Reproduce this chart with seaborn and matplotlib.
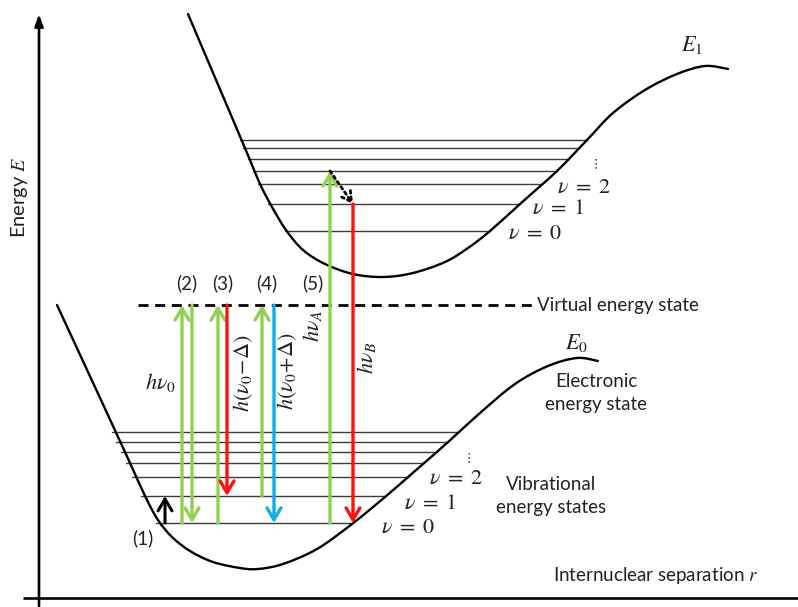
import numpy as np
import matplotlib
matplotlib.use("Agg")
import matplotlib.pyplot as plt
from matplotlib.path import Path
from matplotlib.patches import PathPatch
import seaborn as sns

# ---- potential-energy curves (r, E) in drawing units, E grows downward on screen
r_ground = [57, 82, 107, 130, 146, 158, 172, 190, 213, 240, 258, 283, 317, 352,
            385, 415, 447, 480, 515, 548, 577, 598]
e_ground = [305, 359, 413, 463, 498, 520, 537, 551, 562, 568, 569, 564, 549, 524,
            497, 471, 443, 413, 384, 366, 358, 361]

r_excited = [188, 205, 222, 239, 250, 260, 272, 286, 303, 325, 353, 383, 413,
             445, 468, 490, 520, 557, 587, 613, 645, 677, 705, 728]
e_excited = [14, 54, 94, 134, 160, 184, 207, 230, 250, 264, 274, 277, 273,
             262, 248, 231, 204, 171, 140, 113, 90, 74, 66, 69]

# vibrational levels (v = 0 first)
levels_ground = [523, 496, 477, 463, 452, 442, 432]
levels_excited = [231, 204, 184, 171, 159, 148, 140]
virtual_level = 305
virtual_span = (138, 532)

# transition arrows: (r, start level, end level, colour)
GREEN, RED, BLUE = "#92D050", "#FF1010", "#12AEEA"
transitions = [
    (182, levels_ground[0], virtual_level, GREEN),
    (192, virtual_level, levels_ground[0], GREEN),
    (218, levels_ground[0], virtual_level, GREEN),
    (227, virtual_level, levels_ground[1], RED),
    (262, levels_ground[1], virtual_level, GREEN),
    (274, virtual_level, levels_ground[0], BLUE),
    (330, levels_ground[0], levels_excited[3], GREEN),
    (353, levels_excited[1], levels_ground[0], RED),
]
thermal_r = 165

sns.set_theme(style="white")
plt.rcParams["font.family"] = ["Lato", "DejaVu Sans"]
plt.rcParams["mathtext.fontset"] = "stix"

fig = plt.figure(figsize=(7.98, 6.07), dpi=100)
ax = fig.add_axes([0, 0, 1, 1])
ax.set_xlim(0, 798)
ax.set_ylim(607, 0)
ax.axis("off")

# axes of the diagram
ax.plot([23, 798], [598, 598], color="black", lw=1.9, solid_capstyle="butt")
ax.annotate("", xy=(39, 14), xytext=(39, 606),
            arrowprops=dict(arrowstyle="-|>,head_length=0.7,head_width=0.25",
                            lw=1.9, color="black", shrinkA=0, shrinkB=0,
                            mutation_scale=10))


def smooth_path(rs, es):
    """Cubic Bezier path passing through every (r, E) knot (Catmull-Rom tangents)."""
    p = np.column_stack([rs, es]).astype(float)
    ext = np.vstack([p[0], p, p[-1]])
    verts, codes = [p[0]], [Path.MOVETO]
    for i in range(len(p) - 1):
        p0, p1, p2, p3 = ext[i], ext[i + 1], ext[i + 2], ext[i + 3]
        verts += [p1 + (p2 - p0) / 6.0, p2 - (p3 - p1) / 6.0, p2]
        codes += [Path.CURVE4] * 3
    return Path(verts, codes)


def level_ends(rs, es, level):
    rs = np.asarray(rs, float)
    es = np.asarray(es, float)
    i_min = int(np.argmax(es))
    left_r, left_e = rs[:i_min + 1], es[:i_min + 1]
    right_r, right_e = rs[i_min:], es[i_min:]
    i_top = int(np.argmin(right_e))
    right_r, right_e = right_r[:i_top + 1], right_e[:i_top + 1]
    x0 = np.interp(level, left_e, left_r)
    x1 = np.interp(level, right_e[::-1], right_r[::-1])
    return x0, x1


for rs, es, lv, over in [(r_ground, e_ground, levels_ground, 4),
                         (r_excited, e_excited, levels_excited, 2)]:
    for L in lv:
        x0, x1 = level_ends(rs, es, L)
        ax.plot([x0 - over, x1], [L, L], color="#3c3c3c", lw=1.0, zorder=2)
    ax.add_patch(PathPatch(smooth_path(rs, es), facecolor="none",
                           edgecolor="black", lw=1.7, zorder=4,
                           capstyle="round", joinstyle="round"))

# virtual state
ax.plot(virtual_span, [virtual_level, virtual_level], color="black", lw=2.0,
        dashes=(3.6, 2.4), zorder=3)


def arrow(x0, y0, x1, y1, color, lw=2.4, ls="-", hl=0.85, hw=0.5):
    ax.annotate("", xy=(x1, y1), xytext=(x0, y0),
                arrowprops=dict(arrowstyle=f"->,head_length={hl},head_width={hw}",
                                lw=lw, color=color, shrinkA=0, shrinkB=0,
                                mutation_scale=10, linestyle=ls),
                zorder=5)


for r, a, b, c in transitions:
    arrow(r, a, r, b, c)
arrow(thermal_r, levels_ground[0], thermal_r, levels_ground[1], "black", lw=2.2)
arrow(330, levels_excited[3], 353, levels_excited[1], "black", lw=2.0,
      ls=(0, (1, 1.3)), hl=0.7, hw=0.4)

sans = dict(fontsize=13.5, color="#222222")
mth = dict(fontsize=16, color="#222222")

for txt, x in [("(2)", 187), ("(3)", 223), ("(4)", 267), ("(5)", 313)]:
    ax.text(x, 283, txt, ha="center", va="center", **sans)
ax.text(143, 538, "(1)", ha="center", va="center", **sans)

ax.text(537, 305, "Virtual energy state", ha="left", va="center", **sans)
ax.text(596, 393, "Electronic\nenergy state", ha="center", va="center",
        linespacing=1.4, **sans)
ax.text(551, 496, "Vibrational\nenergy states", ha="center", va="center",
        linespacing=1.4, **sans)
ax.text(553, 576, "Internuclear separation $r$", ha="left", va="center", **sans)
ax.text(19, 197, "Energy $E$", ha="center", va="center", rotation=90,
        fontsize=14.5, color="#222222")

ax.text(692, 45, "$E_1$", ha="center", va="center", **mth)
ax.text(576, 343, "$E_0$", ha="center", va="center", **mth)

for txt, x, y in [("$\\nu\\;=\\;2$", 584, 187), ("$\\nu\\;=\\;1$", 558, 208),
                  ("$\\nu\\;=\\;0$", 535, 233), ("$\\nu\\;=\\;2$", 456, 478),
                  ("$\\nu\\;=\\;1$", 430, 503), ("$\\nu\\;=\\;0$", 408, 527)]:
    ax.text(x, y, txt, ha="center", va="center", **mth)
for x, y in [(595, 164), (468, 458)]:
    ax.text(x, y, "$\\vdots$", ha="center", va="center", fontsize=9,
            color="#222222")

ax.text(160, 382, "$h\\nu_0$", ha="center", va="center", **mth)
ax.text(243, 373, "$h(\\nu_0{-}\\Delta)$", ha="center", va="center",
        rotation=90, **mth)
ax.text(287, 371, "$h(\\nu_0{+}\\Delta)$", ha="center", va="center",
        rotation=90, **mth)
ax.text(313, 326, "$h\\nu_A$", ha="center", va="center", rotation=90, **mth)
ax.text(366, 358, "$h\\nu_B$", ha="center", va="center", rotation=90, **mth)

fig.savefig("out.png", dpi=100, facecolor="white")
